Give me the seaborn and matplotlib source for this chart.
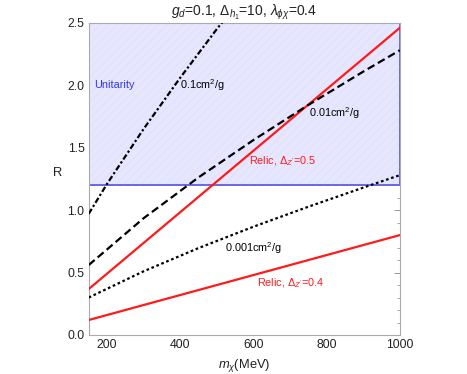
import numpy as np
import pandas as pd
import matplotlib
matplotlib.use("Agg")
import matplotlib.pyplot as plt
import seaborn as sns
from matplotlib.ticker import MultipleLocator

sns.set_theme(style="white")
plt.rcParams['font.family'] = ['Liberation Sans', 'DejaVu Sans']
plt.rcParams['mathtext.fontset'] = 'custom'
plt.rcParams['mathtext.rm'] = 'Liberation Sans'
plt.rcParams['mathtext.it'] = 'Liberation Sans:italic'
plt.rcParams['mathtext.sf'] = 'Liberation Sans'
plt.rcParams['hatch.linewidth'] = 0.5

# ---- data ----
m_relic = [150, 1000]
relic_05 = [0.368, 2.46]
relic_04 = [0.12, 0.80]

m_01 = [150, 200, 300, 400, 500, 530]
sigma_01 = [0.97, 1.21, 1.65, 2.06, 2.45, 2.56]

m_001 = [150, 300, 450, 600, 750, 900, 1000]
sigma_001 = [0.56, 0.935, 1.262, 1.561, 1.842, 2.109, 2.28]

m_0001 = [150, 300, 450, 600, 750, 900, 1000]
sigma_0001 = [0.30, 0.51, 0.696, 0.867, 1.027, 1.18, 1.28]

unitarity_low = 1.2
unitarity_high = 2.5

x_range = [150, 1000]
y_range = [0.0, 2.5]
x_ticks = [200, 400, 600, 800, 1000]
y_ticks = [0.0, 0.5, 1.0, 1.5, 2.0, 2.5]

fig = plt.figure(figsize=(4.67, 3.74), dpi=100)
ax = fig.add_axes([0.19, 0.1043, 0.6665, 0.8350])

# unitarity band
ax.fill_between(x_range, [unitarity_low]*2, [unitarity_high]*2,
                facecolor=(0.90, 0.90, 1.0), edgecolor=(0.40, 0.40, 0.90),
                linewidth=1.2, zorder=1)
ax.fill_between(x_range, [unitarity_low]*2, [unitarity_high]*2,
                facecolor='none', edgecolor=(0.875, 0.875, 0.985), hatch='////',
                linewidth=0, zorder=1.1)
ax.plot([x_range[0], x_range[1], x_range[1], x_range[0], x_range[0]],
        [unitarity_low, unitarity_low, unitarity_high, unitarity_high, unitarity_low],
        color=(0.40, 0.40, 0.90), lw=1.2, zorder=1.2)

df_r5 = pd.DataFrame({'m': m_relic, 'R': relic_05})
df_r4 = pd.DataFrame({'m': m_relic, 'R': relic_04})
df_01 = pd.DataFrame({'m': m_01, 'R': sigma_01})
df_001 = pd.DataFrame({'m': m_001, 'R': sigma_001})
df_0001 = pd.DataFrame({'m': m_0001, 'R': sigma_0001})

sns.lineplot(data=df_r5, x='m', y='R', ax=ax, color='#ff1a1a', lw=1.6, zorder=3)
sns.lineplot(data=df_r4, x='m', y='R', ax=ax, color='#ff1a1a', lw=1.6, zorder=3)
sns.lineplot(data=df_01, x='m', y='R', ax=ax, color='black', lw=1.6, zorder=3)
ax.lines[-1].set_dashes([2.6, 1.1, 1.0, 1.1])
sns.lineplot(data=df_001, x='m', y='R', ax=ax, color='black', lw=1.6, zorder=3)
ax.lines[-1].set_dashes([3.5, 1.8])
sns.lineplot(data=df_0001, x='m', y='R', ax=ax, color='black', lw=1.6, zorder=3)
ax.lines[-1].set_dashes([1.2, 1.2])

fs = 7.8
ax.text(164, 2.0, 'Unitarity', color='#3333ee', fontsize=fs, va='center', ha='left', zorder=4)
ax.text(399, 2.0, '0.1cm$^2$/g', color='black', fontsize=fs, va='center', ha='left', zorder=4)
ax.text(752, 1.78, '0.01cm$^2$/g', color='black', fontsize=fs, va='center', ha='left', zorder=4)
ax.text(589, 1.395, "Relic, $\\Delta_{Z'}$=0.5", color='#ff1a1a', fontsize=fs, va='center', ha='left', zorder=4)
ax.text(522, 0.693, '0.001cm$^2$/g', color='black', fontsize=fs, va='center', ha='left', zorder=4)
ax.text(609, 0.418, "Relic, $\\Delta_{Z'}$=0.4", color='#ff1a1a', fontsize=fs, va='center', ha='left', zorder=4)

ax.set_xlim(x_range)
ax.set_ylim(y_range)
ax.set_xticks(x_ticks)
ax.set_yticks(y_ticks)
ax.set_xticklabels([str(v) for v in x_ticks])
ax.set_yticklabels([f'{v:.1f}' for v in y_ticks])
ax.xaxis.set_minor_locator(MultipleLocator(50))
ax.yaxis.set_minor_locator(MultipleLocator(0.1))
ax.tick_params(which='both', direction='in', top=True, right=True, colors='#999999',
               labelcolor='#222222', labelsize=8.8)
ax.tick_params(which='major', length=4, width=0.7, pad=3)
ax.tick_params(which='minor', length=2, width=0.6)
for s in ax.spines.values():
    s.set_color('#aaaaaa')
    s.set_linewidth(0.8)

ax.set_xlabel('$m_\\chi$(MeV)', fontsize=9.3, color='#222222', labelpad=4)
ax.set_ylabel('R', fontsize=9.3, rotation=0, color='#222222')
ax.yaxis.set_label_coords(-0.1, 0.5)
ax.set_title('$g_d$=0.1, $\\Delta_{h_1}$=10, $\\lambda_{\\phi\\chi}$=0.4', fontsize=10, pad=5,
             color='#222222')

fig.savefig('out.png', dpi=100)
